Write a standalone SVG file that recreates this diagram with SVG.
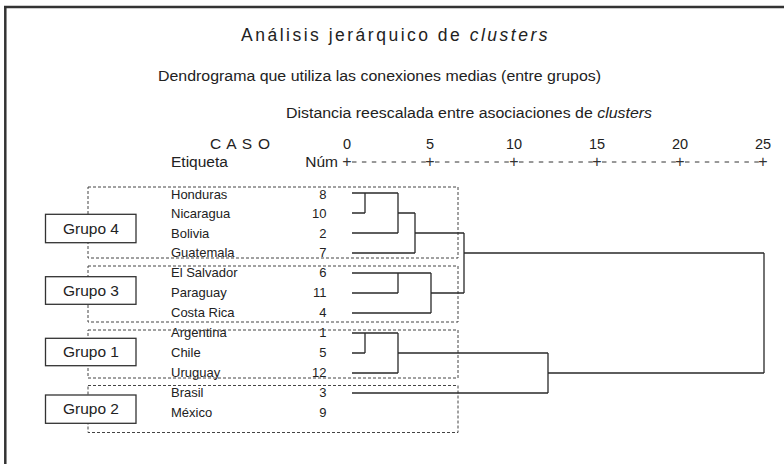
<svg xmlns="http://www.w3.org/2000/svg" width="784" height="464" viewBox="0 0 784 464">
<style>
text{font-family:"Liberation Sans",Arial,sans-serif;fill:#222}
.title{font-size:17.5px;letter-spacing:2.5px}
.sub{font-size:15.5px}
.hdr{font-size:15.5px}
.num{font-size:14.5px;text-anchor:middle}
.lab{font-size:13px}
.id{font-size:13px;text-anchor:end}
.grp{font-size:15.5px;text-anchor:middle}
.plus{font-size:16px;text-anchor:middle;fill:#333}
.dend{fill:none;stroke:#2a2a2a;stroke-width:1.3}
.dot{fill:none;stroke:#444;stroke-width:1;stroke-dasharray:3 2}
.gbox{fill:#fff;stroke:#333;stroke-width:1.3}
.scale{stroke:#333;stroke-width:1;stroke-dasharray:4.5 5.4}
.frame{stroke:#333;stroke-width:2.5}
</style>
<rect width="784" height="464" fill="#fff"/>
<line class="frame" x1="4" y1="7" x2="784" y2="7"/>
<line class="frame" x1="5.3" y1="6" x2="5.3" y2="464"/>

<text class="title" x="241" y="41">Análisis jerárquico de <tspan font-style="italic">clusters</tspan></text>
<text class="sub" x="158" y="81" textLength="443" lengthAdjust="spacingAndGlyphs">Dendrograma que utiliza las conexiones medias (entre grupos)</text>
<text class="sub" x="286" y="118" textLength="366" lengthAdjust="spacingAndGlyphs">Distancia reescalada entre asociaciones de <tspan font-style="italic">clusters</tspan></text>

<g id="header">
<text class="hdr" x="210" y="149" font-size="14.5" letter-spacing="0.8">C A S O</text>
<text class="hdr" x="171" y="167">Etiqueta</text>
<text class="hdr" x="338" y="167" text-anchor="end">Núm</text>
<text class="num" x="347" y="149">0</text>
<text class="num" x="430" y="149">5</text>
<text class="num" x="514" y="149">10</text>
<text class="num" x="597" y="149">15</text>
<text class="num" x="680" y="149">20</text>
<text class="num" x="763" y="149">25</text>
<text class="plus" x="347" y="166.6">+</text>
<text class="plus" x="430" y="166.6">+</text>
<text class="plus" x="514" y="166.6">+</text>
<text class="plus" x="597" y="166.6">+</text>
<text class="plus" x="680" y="166.6">+</text>
<text class="plus" x="763" y="166.6">+</text>
<line class="scale" x1="352" y1="162" x2="426" y2="162"/>
<line class="scale" x1="435" y1="162" x2="510" y2="162"/>
<line class="scale" x1="519" y1="162" x2="593" y2="162"/>
<line class="scale" x1="602" y1="162" x2="676" y2="162"/>
<line class="scale" x1="685" y1="162" x2="759" y2="162"/>
</g>

<g id="groupboxes">
<rect class="dot" x="88" y="187" width="370" height="71"/>
<rect class="dot" x="88" y="266" width="370" height="56"/>
<rect class="dot" x="88" y="330" width="370" height="48"/>
<rect class="dot" x="88" y="385.5" width="370" height="47"/>
</g>

<g id="grupo4"><rect class="gbox" x="45.5" y="214.3" width="90.5" height="28.4"/><text class="grp" x="91" y="233.5">Grupo 4</text></g>
<g id="grupo3"><rect class="gbox" x="45.5" y="276.7" width="90.5" height="27.6"/><text class="grp" x="91" y="295.5">Grupo 3</text></g>
<g id="grupo1"><rect class="gbox" x="45.5" y="338.3" width="90.5" height="27.4"/><text class="grp" x="91" y="357">Grupo 1</text></g>
<g id="grupo2"><rect class="gbox" x="45.5" y="395" width="90.5" height="28.3"/><text class="grp" x="91" y="414">Grupo 2</text></g>

<g id="cases">
<g id="case-8"><text class="lab" x="171" y="198.5">Honduras</text><text class="id" x="326.5" y="198.5">8</text></g>
<g id="case-10"><text class="lab" x="171" y="218.3">Nicaragua</text><text class="id" x="326.5" y="218.3">10</text></g>
<g id="case-2"><text class="lab" x="171" y="237.8">Bolivia</text><text class="id" x="326.5" y="237.8">2</text></g>
<g id="case-7"><text class="lab" x="171" y="257.3">Guatemala</text><text class="id" x="326.5" y="257.3">7</text></g>
<g id="case-6"><text class="lab" x="171" y="277">El Salvador</text><text class="id" x="326.5" y="277">6</text></g>
<g id="case-11"><text class="lab" x="171" y="297">Paraguay</text><text class="id" x="326.5" y="297">11</text></g>
<g id="case-4"><text class="lab" x="171" y="316.8">Costa Rica</text><text class="id" x="326.5" y="316.8">4</text></g>
<g id="case-1"><text class="lab" x="171" y="337">Argentina</text><text class="id" x="326.5" y="337">1</text></g>
<g id="case-5"><text class="lab" x="171" y="357.3">Chile</text><text class="id" x="326.5" y="357.3">5</text></g>
<g id="case-12"><text class="lab" x="171" y="377">Uruguay</text><text class="id" x="326.5" y="377">12</text></g>
<g id="case-3"><text class="lab" x="171" y="397">Brasil</text><text class="id" x="326.5" y="397">3</text></g>
<g id="case-9"><text class="lab" x="171" y="417">México</text><text class="id" x="326.5" y="417">9</text></g>
</g>

<g id="connectors" class="dend">
<path d="M352,193H398M352,213H365M365,193V213M352,233H398M398,193V233M398,213H415M352,253H415M415,213V253M415,233H464"/>
<path d="M352,273H431M352,293H398M398,273V293M352,313H431M431,273V313M431,293H464"/>
<path d="M464,233V293M464,253H764M764,253V373"/>
<path d="M352,333H398M352,353H365M365,333V353M352,373H398M398,333V373M398,353H548M352,393H548M548,353V393M548,373H764"/>
</g>
</svg>
